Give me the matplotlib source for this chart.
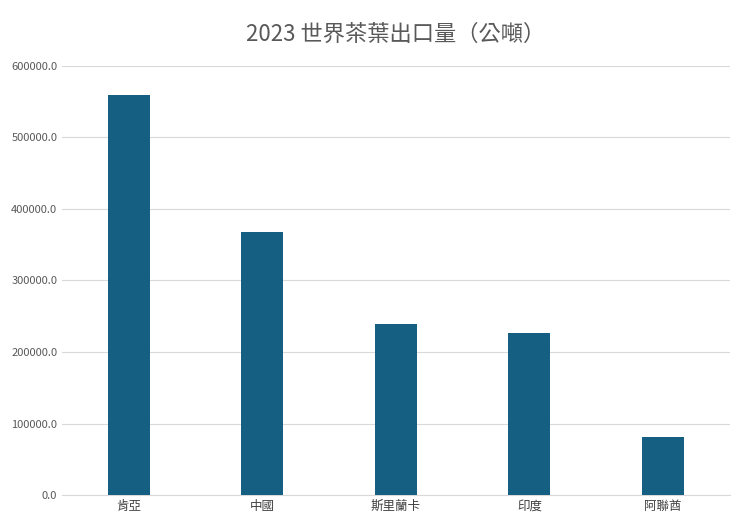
import matplotlib.pyplot as plt

plt.rcParams['font.family'] = ['Noto Sans CJK TC', 'DejaVu Sans']

countries = ["肯亞", "中國", "斯里蘭卡", "印度", "阿聯酋"]
exports = [559000, 367000, 239000, 226000, 81000]
yticks = [0, 100000, 200000, 300000, 400000, 500000, 600000]

fig, ax = plt.subplots(figsize=(7.4, 5.24), dpi=100)
ax.bar(countries, exports, width=0.315, color="#156082", zorder=3)
ax.set_xlim(-0.5, len(countries) - 0.5)
ax.set_ylim(0, 600000)
ax.set_yticks(yticks)
ax.set_yticklabels([f"{v:.1f}" for v in yticks], fontsize=8, color="#595959")
ax.tick_params(axis="x", labelsize=9, colors="#404040", length=0)
ax.tick_params(axis="y", length=0)
ax.grid(axis="y", color="#d9d9d9", lw=0.8, zorder=0)
for s in ["top", "right", "left"]:
    ax.spines[s].set_visible(False)
ax.spines["bottom"].set_color("#d9d9d9")
ax.set_title("2023 世界茶葉出口量（公噸）", fontsize=16, color="#595959", pad=18)
plt.subplots_adjust(left=0.084, right=0.986, top=0.875, bottom=0.055)
fig.savefig("out.png")
